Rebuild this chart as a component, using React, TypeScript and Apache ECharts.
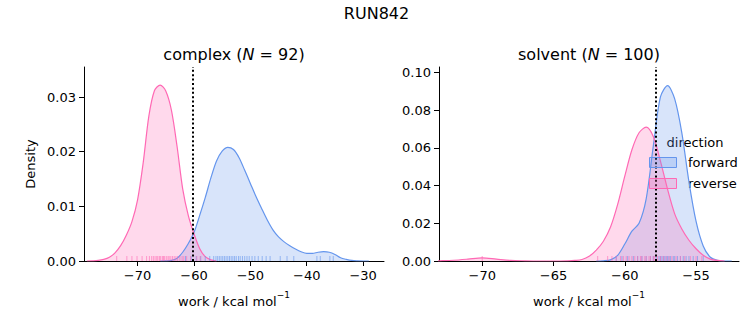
import React, { useEffect, useRef } from 'react';
import * as echarts from 'echarts';

// ---- data ----
const SUPTITLE = 'RUN842';
const PHASES = ['complex', 'solvent'];
const COUNTS = [92, 100];
const DIRECTIONS = ['forward', 'reverse'];

const CX_TICKS = [-70, -60, -50, -40, -30];
const CY_TICKS = [0, 0.01, 0.02, 0.03];
const SX_TICKS = [-70, -65, -60, -55];
const SY_TICKS = [0, 0.02, 0.04, 0.06, 0.08, 0.1];

const C_MEAN_LINE = -60.2;
const S_MEAN_LINE = -57.8;

// complex forward KDE
const CF_X = [-66, -65, -64, -63, -62, -61, -60, -59, -58, -57, -56, -55, -54, -53, -52, -51, -50, -49, -48, -47, -46, -45, -44, -43, -42, -41, -40, -39, -38, -37, -36, -35, -34, -33, -32, -31, -30, -29];
const CF_Y = [0, 0.00002, 0.0001, 0.0005, 0.0016, 0.0032, 0.0052, 0.0083, 0.0116, 0.0152, 0.0183, 0.0201, 0.0208, 0.0204, 0.0189, 0.0166, 0.0142, 0.0118, 0.0096, 0.0075, 0.0057, 0.0044, 0.0035, 0.0028, 0.0022, 0.0017, 0.0014, 0.0014, 0.0016, 0.0017, 0.0016, 0.0012, 0.0006, 0.0003, 0.0001, 0.00003, 0, 0];
// complex reverse KDE
const CR_X = [-79, -78, -77, -76, -75, -74, -73, -72, -71, -70, -69, -68, -67, -66, -65, -64, -63, -62, -61, -60, -59, -58, -57, -56];
const CR_Y = [0, 0.00003, 0.0001, 0.0003, 0.0007, 0.0015, 0.0028, 0.0047, 0.0072, 0.0112, 0.018, 0.0265, 0.0312, 0.0322, 0.0311, 0.0276, 0.021, 0.0132, 0.0083, 0.005, 0.0023, 0.0008, 0.0002, 0];
// solvent forward KDE
const SF_X = [-62, -61.5, -61, -60.5, -60, -59.5, -59, -58.5, -58, -57.5, -57, -56.5, -56, -55.5, -55, -54.5, -54, -53.5, -53, -52.5];
const SF_Y = [0, 0.0001, 0.0006, 0.003, 0.009, 0.0158, 0.02, 0.033, 0.061, 0.087, 0.093, 0.086, 0.068, 0.042, 0.021, 0.008, 0.002, 0.0003, 0, 0];
// solvent reverse KDE
const SR_X = [-73.5, -73, -72, -71, -70, -69, -68, -67, -66, -65, -64, -63.5, -63, -62.5, -62, -61.5, -61, -60.5, -60, -59.5, -59, -58.5, -58, -57.5, -57, -56.5, -56, -55.5, -55, -54.5, -54, -53.5, -53];
const SR_Y = [0, 0.0001, 0.0004, 0.001, 0.0017, 0.001, 0.0003, 0.0001, 0, 0, 0.0001, 0.0003, 0.0008, 0.0025, 0.0058, 0.0105, 0.018, 0.03, 0.045, 0.059, 0.068, 0.071, 0.066, 0.053, 0.038, 0.025, 0.017, 0.011, 0.0065, 0.003, 0.001, 0.0003, 0];

// rug samples
const CF_RUG = [-61.5, -60.5, -59.6, -58.8, -58.0, -57.2, -56.5, -56.1, -55.8, -55.5, -55.2, -54.9, -54.6, -54.3, -54.0, -53.7, -53.4, -53.1, -52.8, -52.5, -52.1, -51.8, -51.4, -51.0, -50.6, -50.2, -49.7, -49.2, -48.6, -47.9, -47.2, -46.5, -44.7, -43.5, -42.3, -38.2, -37.6, -35.9, -35.3];
const CR_RUG = [-73.7, -71.9, -71.0, -70.1, -69.2, -68.4, -67.9, -67.5, -67.2, -66.9, -66.6, -66.4, -66.1, -65.9, -65.6, -65.4, -65.2, -64.9, -64.6, -64.4, -64.1, -63.8, -63.5, -63.2, -62.9, -62.5, -62.1, -61.8, -61.3, -60.6, -59.5, -58.9];
const SF_RUG = [-60.6, -60.2, -59.8, -59.4, -59.1, -58.8, -58.5, -58.2, -58.0, -57.8, -57.6, -57.5, -57.4, -57.3, -57.2, -57.1, -57.0, -56.9, -56.8, -56.6, -56.5, -56.3, -56.1, -55.9, -55.7, -55.5, -55.2, -54.9, -54.5];
const SR_RUG = [-70.0, -61.9, -61.2, -60.9, -60.6, -60.3, -60.1, -59.9, -59.7, -59.5, -59.3, -59.1, -58.9, -58.8, -58.6, -58.5, -58.3, -58.2, -58.0, -57.9, -57.7, -57.5, -57.3, -57.1, -56.9, -56.7, -56.4, -56.1, -55.8, -55.4, -55.0, -54.6];

// ---- styles ----
const BLUE = '#6495ED';
const PINK = '#FF69B4';
const FONT = 'DejaVu Sans';

const pairs = (xs: number[], ys: number[]) => xs.map((x, i) => [x, ys[i]]);
const fmtX = (v: number) => (v < 0 ? '\u2212' : '') + Math.abs(v);
const fmtY = (v: number) => v.toFixed(2);

function kde(name: string, xs: number[], ys: number[], color: string, idx: number, extra: any = {}) {
  return {
    type: 'line',
    name,
    xAxisIndex: idx,
    yAxisIndex: idx,
    data: pairs(xs, ys),
    smooth: 0.3,
    showSymbol: false,
    symbol: 'none',
    lineStyle: { color, width: 1.2 },
    itemStyle: { color },
    areaStyle: { color, opacity: 0.25 },
    z: 2,
    ...extra,
  };
}

function rug(name: string, xs: number[], color: string, idx: number) {
  return {
    type: 'scatter',
    name,
    xAxisIndex: idx,
    yAxisIndex: idx,
    data: xs.map((x) => [x, 0]),
    symbol: 'rect',
    symbolSize: [1, 5],
    symbolOffset: [0, -2.5],
    itemStyle: { color, opacity: 0.6 },
    silent: true,
    z: 3,
  };
}

function meanLine(v: number) {
  return {
    symbol: 'none',
    silent: true,
    label: { show: false },
    lineStyle: { color: '#000', type: [2, 2.4], width: 2, opacity: 1 },
    emphasis: { disabled: true },
    data: [{ xAxis: v }],
    z: 5,
  };
}

function xAxis(idx: number, min: number, max: number, ticks: number[]) {
  return {
    type: 'value',
    gridIndex: idx,
    min,
    max,
    axisLine: { show: true, onZero: false, lineStyle: { color: '#000', width: 1 } },
    axisTick: { show: true, length: 5, lineStyle: { color: '#000', width: 1 }, customValues: ticks },
    axisLabel: { color: '#000', fontSize: 13, fontFamily: FONT, margin: 8, formatter: fmtX, customValues: ticks },
    splitLine: { show: false },
  };
}

function yAxis(idx: number, max: number, ticks: number[]) {
  return {
    type: 'value',
    gridIndex: idx,
    min: 0,
    max,
    axisLine: { show: true, lineStyle: { color: '#000', width: 1 } },
    axisTick: { show: true, length: 5, lineStyle: { color: '#000', width: 1 }, customValues: ticks },
    axisLabel: { color: '#000', fontSize: 13, fontFamily: FONT, margin: 8, formatter: fmtY, customValues: ticks },
    splitLine: { show: false },
  };
}

export default function App() {
  const ref = useRef<HTMLDivElement>(null);
  useEffect(() => {
    if (!ref.current) return;
    const chart = echarts.init(ref.current, null, { renderer: 'svg' });
    const txt = (text: string, x: number, y: number, size: number, extra: any = {}) => ({
      type: 'text',
      x,
      y,
      style: { text, fontSize: size, fontFamily: FONT, fill: '#000', align: 'center', verticalAlign: 'middle', ...extra },
    });
    const xlabelRich = {
      n: { fontSize: 13, fontFamily: FONT, fill: '#000', color: '#000', lineHeight: 18, verticalAlign: 'bottom' },
      s: { fontSize: 9, fontFamily: FONT, fill: '#000', color: '#000', verticalAlign: 'top' },
    };
    const titleRich = {
      t: { fontSize: 16, fontFamily: FONT, color: '#000' },
      i: { fontSize: 16, fontFamily: FONT, fontStyle: 'italic', color: '#000' },
    };
    chart.setOption({
      animation: false,
      backgroundColor: '#fff',
      grid: [
        { left: 84, right: 369, top: 67, bottom: 64 },
        { left: 439, right: 14, top: 67, bottom: 64 },
      ],
      xAxis: [xAxis(0, -79.5, -26.3, CX_TICKS), xAxis(1, -73.03, -51.99, SX_TICKS)],
      yAxis: [yAxis(0, 0.0355, CY_TICKS), yAxis(1, 0.1029, SY_TICKS)],
      series: [
        kde(DIRECTIONS[0], CF_X, CF_Y, BLUE, 0, { markLine: meanLine(C_MEAN_LINE) }),
        kde(DIRECTIONS[1], CR_X, CR_Y, PINK, 0),
        rug(DIRECTIONS[0] + ' rug', CF_RUG, BLUE, 0),
        rug(DIRECTIONS[1] + ' rug', CR_RUG, PINK, 0),
        kde(DIRECTIONS[0], SF_X, SF_Y, BLUE, 1, { markLine: meanLine(S_MEAN_LINE) }),
        kde(DIRECTIONS[1], SR_X, SR_Y, PINK, 1),
        rug(DIRECTIONS[0] + ' rug', SF_RUG, BLUE, 1),
        rug(DIRECTIONS[1] + ' rug', SR_RUG, PINK, 1),
      ],
      graphic: [
        txt(SUPTITLE, 376.5, 13, 16),
        {
          type: 'text', x: 234, y: 54,
          style: { text: `{t|${PHASES[0]} (}{i|N}{t| = ${COUNTS[0]})}`, rich: titleRich, align: 'center', verticalAlign: 'middle' },
        },
        {
          type: 'text', x: 589, y: 54,
          style: { text: `{t|${PHASES[1]} (}{i|N}{t| = ${COUNTS[1]})}`, rich: titleRich, align: 'center', verticalAlign: 'middle' },
        },
        {
          type: 'text', x: 234, y: 299,
          style: { text: '{n|work / kcal mol}{s|\u22121}', rich: xlabelRich, align: 'center', verticalAlign: 'middle' },
        },
        {
          type: 'text', x: 589, y: 299,
          style: { text: '{n|work / kcal mol}{s|\u22121}', rich: xlabelRich, align: 'center', verticalAlign: 'middle' },
        },
        { ...txt('Density', 30, 164, 13), rotation: Math.PI / 2 },
        // legend
        txt('direction', 695, 142, 13),
        { type: 'rect', shape: { x: 649.5, y: 157.5, width: 27, height: 10 }, style: { fill: 'rgba(100,149,237,0.25)', stroke: BLUE, lineWidth: 1 }, z: 10 },
        { type: 'rect', shape: { x: 649.5, y: 178.5, width: 27, height: 10 }, style: { fill: 'rgba(255,105,180,0.25)', stroke: PINK, lineWidth: 1 }, z: 10 },
        txt(DIRECTIONS[0], 688, 162, 13, { align: 'left' }),
        txt(DIRECTIONS[1], 688, 183, 13, { align: 'left' }),
      ],
    });
    return () => chart.dispose();
  }, []);
  return <div ref={ref} style={{ width: 753, height: 325, position: 'absolute', left: 0, top: 0 }} />;
}
